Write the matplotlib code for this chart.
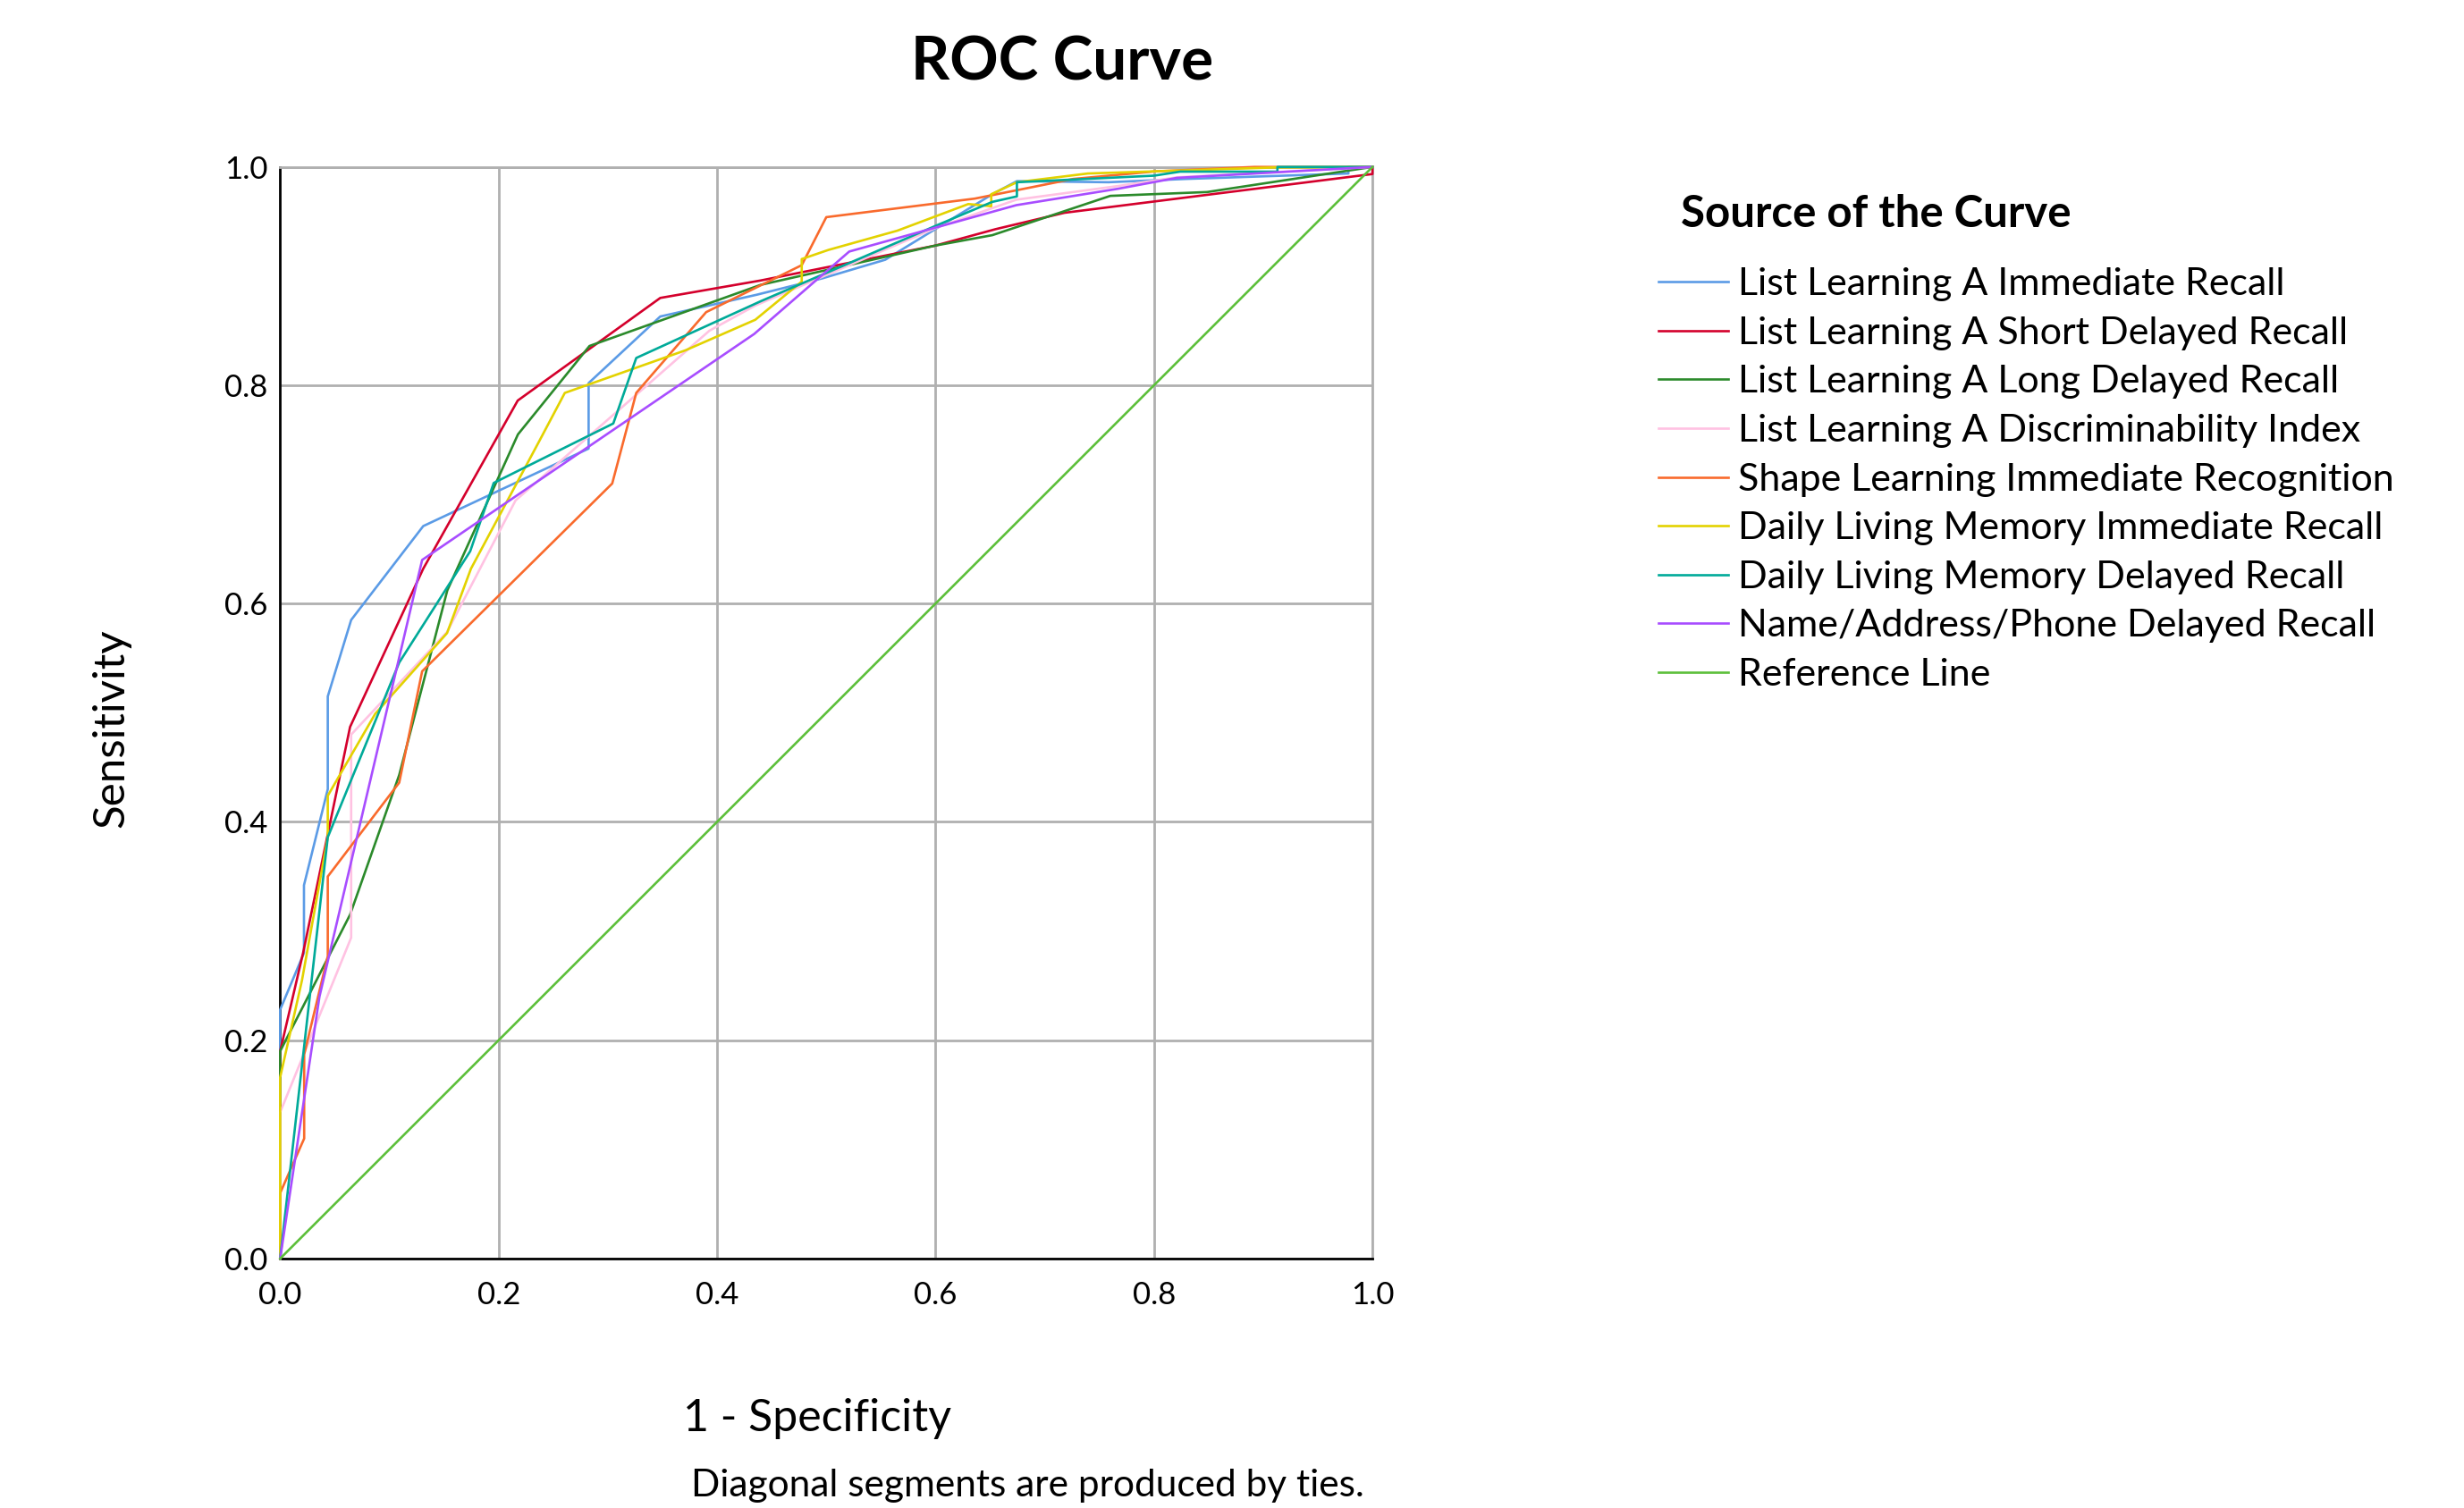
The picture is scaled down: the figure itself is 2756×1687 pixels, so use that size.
import matplotlib
matplotlib.use("Agg")
import matplotlib.pyplot as plt

plt.rcParams['font.family'] = ['Lato', 'DejaVu Sans']

# curve names (legend order)
names = ["List Learning A Immediate Recall", "List Learning A Short Delayed Recall",
         "List Learning A Long Delayed Recall", "List Learning A Discriminability Index",
         "Shape Learning Immediate Recognition", "Daily Living Memory Immediate Recall",
         "Daily Living Memory Delayed Recall", "Name/Address/Phone Delayed Recall",
         "Reference Line"]

# 1 - specificity / sensitivity
immediate_x = [0, 0, 0.0218, 0.0218, 0.0436, 0.0436, 0.065, 0.131, 0.2824, 0.2824, 0.348, 0.4366,
               0.4966, 0.554, 0.652, 0.6745, 0.7585, 0.829, 0.978, 0.978, 1.0]
immediate_y = [0, 0.228, 0.28, 0.342, 0.43, 0.515, 0.585, 0.671, 0.742, 0.802, 0.863, 0.883,
               0.898, 0.915, 0.975, 0.987, 0.986, 0.989, 0.994, 1.0, 1.0]

short_x = [0, 0, 0.021, 0.064, 0.131, 0.2175, 0.348, 0.44, 0.60, 0.655, 0.718, 1.0, 1.0]
short_y = [0, 0.19, 0.28, 0.487, 0.632, 0.786, 0.88, 0.896, 0.928, 0.943, 0.958, 0.9935, 1.0]

long_x = [0, 0, 0.064, 0.109, 0.153, 0.2177, 0.2832, 0.44, 0.60, 0.652, 0.76, 0.8486, 1.0]
long_y = [0, 0.19, 0.315, 0.443, 0.612, 0.755, 0.836, 0.892, 0.928, 0.9375, 0.9735, 0.977, 1.0]

discrim_x = [0, 0, 0.065, 0.065, 0.1528, 0.2155, 0.393, 0.435, 0.6, 0.674, 0.767, 0.821, 1.0]
discrim_y = [0, 0.134, 0.294, 0.48, 0.574, 0.6945, 0.85, 0.873, 0.944, 0.97, 0.9825, 0.9905, 1.0]

shape_x = [0, 0, 0.022, 0.022, 0.0436, 0.0436, 0.109, 0.13, 0.304, 0.326, 0.39, 0.4775, 0.50,
           0.636, 0.726, 0.802, 0.892, 1.0]
shape_y = [0, 0.06, 0.11, 0.187, 0.277, 0.35, 0.436, 0.538, 0.71, 0.793, 0.867, 0.91, 0.954,
           0.971, 0.989, 0.996, 1.0, 1.0]

daily_imm_x = [0, 0, 0.02, 0.0436, 0.0436, 0.087, 0.1528, 0.1747, 0.2373, 0.2606, 0.371, 0.435,
               0.4775, 0.4775, 0.502, 0.565, 0.630, 0.651, 0.651, 0.6745, 0.7395, 0.91, 1.0]
daily_imm_y = [0, 0.166, 0.255, 0.386, 0.424, 0.499, 0.573, 0.632, 0.749, 0.793, 0.832, 0.86,
               0.895, 0.9156, 0.924, 0.9416, 0.966, 0.964, 0.975, 0.986, 0.994, 0.9995, 1.0]

daily_del_x = [0, 0.0436, 0.109, 0.174, 0.1955, 0.305, 0.326, 0.44, 0.6, 0.652, 0.6745, 0.6745,
               0.80, 0.824, 0.913, 0.913, 1.0]
daily_del_y = [0, 0.386, 0.546, 0.648, 0.7105, 0.765, 0.825, 0.877, 0.946, 0.968, 0.973, 0.986,
               0.992, 0.9957, 0.9957, 1.0, 1.0]

nap_x = [0, 0.036, 0.13, 0.434, 0.521, 0.674, 0.767, 0.821, 1.0]
nap_y = [0, 0.24, 0.64, 0.847, 0.9225, 0.965, 0.98, 0.99, 1.0]

ref_x = [0, 1]
ref_y = [0, 1]

colors = ["#5b9be6", "#d4002c", "#2b8a2b", "#ffc2e2", "#f96a2c",
          "#e3d200", "#00aa99", "#a84dff", "#5cbf3a"]

curves = [(immediate_x, immediate_y), (short_x, short_y), (long_x, long_y),
          (discrim_x, discrim_y), (shape_x, shape_y), (daily_imm_x, daily_imm_y),
          (daily_del_x, daily_del_y), (nap_x, nap_y), (ref_x, ref_y)]

fig = plt.figure(figsize=(27.56, 16.87), dpi=100)
ax = fig.add_axes([0.1137, 0.1654, 0.4433, 0.7239])

for i in range(len(curves)):
    ax.plot(curves[i][0], curves[i][1], color=colors[i], lw=1.9, label=names[i],
            clip_on=False, zorder=3)

ax.set_xlim(0, 1)
ax.set_ylim(0, 1)
ticks = [0.0, 0.2, 0.4, 0.6, 0.8, 1.0]
ax.set_xticks(ticks)
ax.set_yticks(ticks)
ax.set_xticklabels(["%.1f" % t for t in ticks])
ax.set_yticklabels(["%.1f" % t for t in ticks])
ax.tick_params(axis="both", length=0, labelsize=25)
ax.tick_params(axis="x", pad=18)
ax.tick_params(axis="y", pad=10)
ax.grid(True, color="#b0b0b0", lw=2.0, zorder=1)
ax.set_axisbelow(True)

for s in ["top", "right"]:
    ax.spines[s].set_color("#b0b0b0")
    ax.spines[s].set_linewidth(2.0)
for s in ["left", "bottom"]:
    ax.spines[s].set_color("black")
    ax.spines[s].set_linewidth(2.0)

fig.text(0.431, 0.958, "ROC Curve", ha="center", va="center", fontsize=48.5, fontweight="bold")
fig.text(0.3315, 0.0595, "1 - Specificity", ha="center", va="center", fontsize=36)
fig.text(0.045, 0.517, "Sensitivity", ha="center", va="center", fontsize=35.5, rotation=90)
fig.text(0.417, 0.015, "Diagonal segments are produced by ties.", ha="center", va="center",
         fontsize=30.5)

# legend title drawn on its own, indented like the original
fig.text(0.6823, 0.8583, "Source of the Curve", ha="left", va="center",
         fontsize=35.5, fontweight="bold")
leg = ax.legend(loc="upper left", bbox_to_anchor=(0.667, 0.8328), bbox_transform=fig.transFigure,
                frameon=False, fontsize=31, handlelength=1.81, handletextpad=0.25,
                labelspacing=0.385, borderaxespad=0, borderpad=0.4)

fig.savefig("out.png", dpi=100)
